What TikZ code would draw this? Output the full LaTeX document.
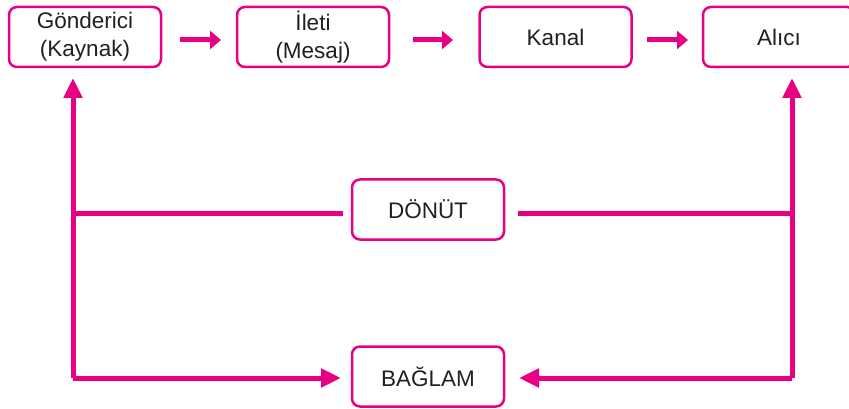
\documentclass[tikz,border=0pt]{standalone}
\usepackage{fontspec}
\setmainfont{Liberation Sans}
\usetikzlibrary{arrows.meta,positioning,calc}
\definecolor{pembe}{RGB}{232,0,132}
\definecolor{yazi}{RGB}{35,31,32}

\begin{document}
\begin{tikzpicture}[x=1pt,y=-1pt,node distance=76pt,
    kutu/.style={rectangle,draw=pembe,line width=2.5pt,rounded corners=8pt,
      minimum width=152pt,minimum height=60pt,inner sep=0pt,outer sep=0pt,
      align=center,text=yazi,font=\fontsize{22.5}{28}\selectfont},
    tel/.style={draw=pembe,line width=5pt},
    ok/.style={tel,-{Triangle[length=11pt,width=18pt]}},
    buyukok/.style={tel,-{Triangle[length=20pt,width=18pt]}}]
    \useasboundingbox (0,0) rectangle (849,409);
    \node[kutu](s0) at (85,37){G\"onderici\\(Kaynak)};
    \node[kutu](s1)[right=of s0]{\.Ileti\\(Mesaj)};
    \node[kutu](s2)[right=90.5pt of s1]{Kanal};
    \node[kutu](s3)[right=71.5pt of s2]{Al\i c\i};
    \node[kutu](fb) at (428,209.5){D\"ON\"UT};
    \node[kutu](ctx) at (428,376.5){BA\u{G}LAM};
    \coordinate (lt) at (73,78);
    \coordinate (lb) at (73,378);
    \coordinate (lm) at (73,213);
    \coordinate (rt) at (792,78);
    \coordinate (rb) at (792,378);
    \coordinate (rm) at (792,213);
    \path([yshift=-3pt]s0.east)edge[ok,shorten <=19pt,shorten >=16pt]([yshift=-3pt]s1.west);
    \path([yshift=-3pt]s1.east)edge[ok,shorten <=24pt,shorten >=26.5pt]([yshift=-3pt]s2.west);
    \path([yshift=-3pt]s2.east)edge[ok,shorten <=15.5pt,shorten >=15pt]([yshift=-3pt]s3.west);
    \draw[buyukok](lb)--(lt);
    \draw[buyukok](rb)--(rt);
    \draw[buyukok,shorten >=11pt](lb)--(lb-|ctx.west);
    \draw[buyukok,shorten >=15pt](rb)--(rb-|ctx.east);
    \draw[tel]([xshift=-9pt]lm-|fb.west)--(lm);
    \draw[tel]([xshift=14pt]rm-|fb.east)--(rm);
     \end{tikzpicture}
\end{document}
